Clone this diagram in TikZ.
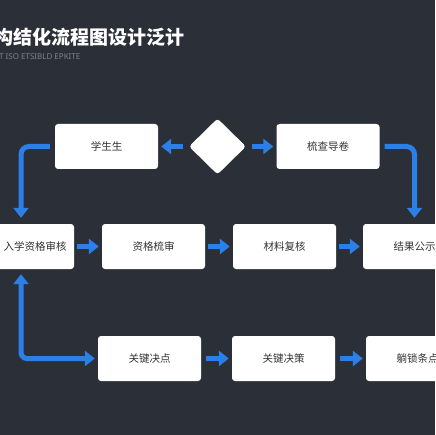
\documentclass[tikz,border=0pt]{standalone}
\usepackage{fontspec}
\setmainfont{Noto Sans}
\newfontfamily\cjk{Noto Sans CJK SC}
\usetikzlibrary{positioning,shapes.geometric,arrows.meta}
\definecolor{bgdark}{HTML}{2B2F37}
\definecolor{flowblue}{HTML}{2D7FE8}
\definecolor{boxtext}{HTML}{333333}
\definecolor{subgray}{HTML}{7D828B}
\tikzset{
  box/.style={fill=white, rounded corners=3pt, minimum width=103pt, minimum height=45pt, inner sep=0pt, text=boxtext, font=\cjk\fontsize{10.5}{12}\selectfont},
  gate/.style={diamond, aspect=1, fill=white, rounded corners=3pt, inner sep=0pt, minimum width=57pt, minimum height=56pt},
  tip/.tip={Triangle[length=10pt,width=15pt]},
  flow/.style={draw=flowblue, line width=5pt, -tip, rounded corners=6pt},
}

\begin{document}
\begin{tikzpicture}[x=1pt,y=-1pt]
  \clip (0,0) rectangle (435,435);
  \fill[bgdark] (0,0) rectangle (435,435);
  \node[anchor=west, inner sep=0pt, text=white, font=\cjk\bfseries\fontsize{19}{22}\selectfont] (Title) at (-6,37) {构结化流程图设计泛计};
  \node[anchor=west, inner sep=0pt, text=subgray, font=\fontsize{8}{9}\selectfont] (Subtitle) at (-1,57) {T ISO ETSIBLD EPKITE};

  \node[box, minimum width=78pt] (Entry) at (35,246.5) {入学资格审核};
  \coordinate[on grid, left=14pt of Entry.north] (EntryTop);
  \coordinate[on grid, left=14pt of Entry.south] (EntryBottom);
  \node[box, on grid, right=118.5pt of Entry] (Qualify) {资格梳审};
  \node[box, on grid, right=131pt of Qualify] (Material) {材料复核};
  \node[box, on grid, right=130pt of Material] (Result) {结果公示};
  \node[box, on grid, above left=100pt and 47pt of Qualify] (Student) {学生生};
  \node[gate, on grid, right=111pt of Student] (Gate) {};
  \node[box, on grid, above left=100pt and 86.5pt of Result] (Check) {梳查导卷};
  \node[box, on grid, below left=112pt and 4pt of Qualify] (KeyPoint) {关键决点};
  \node[box, on grid, right=134pt of KeyPoint] (Decision) {关键决策};
  \node[box, on grid, right=134pt of Decision] (Lock) {躺锁条点};

  \draw[flow, shorten <=6pt, shorten >=3pt] (Gate) -- (Student);
  \draw[flow, shorten <=6pt, shorten >=3pt] (Gate) -- (Check);
  \draw[flow, rounded corners=8pt, shorten <=5pt, shorten >=6pt] (Student.west) -| (EntryTop);
  \draw[flow, rounded corners=8pt, shorten <=5pt, shorten >=6pt] (Check.east) -| (Result.north);
  \draw[flow, shorten <=3pt, shorten >=3pt] (Entry) -- (Qualify);
  \draw[flow, shorten <=3pt, shorten >=3pt] (Qualify) -- (Material);
  \draw[flow, shorten <=3pt, shorten >=3pt] (Material) -- (Result);
  \draw[flow, tip-tip, shorten <=5pt, shorten >=3pt] (EntryBottom) |- (KeyPoint.west);
  \draw[flow, shorten <=5pt, shorten >=3pt] (KeyPoint) -- (Decision);
  \draw[flow, shorten <=5pt, shorten >=3pt] (Decision) -- (Lock);
\end{tikzpicture}
\end{document}
